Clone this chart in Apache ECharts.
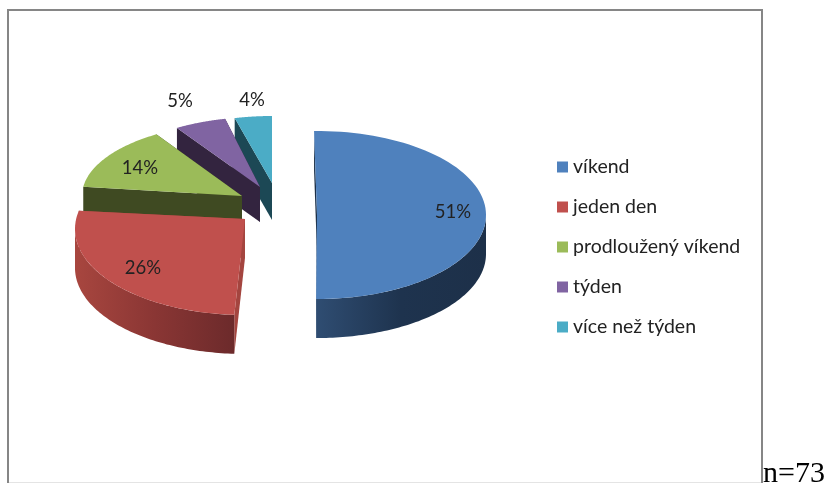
<!DOCTYPE html>
<html>
<head>
<meta charset="utf-8">
<style>html,body{margin:0;padding:0;background:#fff;overflow:hidden}#c{width:826px;height:483px}</style>
<script src="https://cdn.jsdelivr.net/npm/echarts@6/dist/echarts.min.js"></script>
</head>
<body>
<div id="c"></div>
<script>
var categories = ['víkend', 'jeden den', 'prodloužený víkend', 'týden', 'více než týden'];
var percents = [51, 26, 14, 5, 4];
var sampleNote = 'n=73';

var colors = ['#4f81bd', '#c0504d', '#9bbb59', '#8064a2', '#4bacc6'];
var faceColors = ['#1c3048', '#a4453f', '#3f4a22', '#33243f', '#1c4855'];
var wallStops = [
  ['#2f4d72', '#1e334e', '#1d3049'],
  ['#a8463f', '#8a3634', '#6c2a2b'],
  ['#3f4a22', '#3f4a22', '#3f4a22'],
  ['#33243f', '#33243f', '#33243f'],
  ['#1c4855', '#1c4855', '#1c4855']
];
/* projected look of each exploded slice: apex, ellipse drop, radii, depth, small perspective corrections */
var looks = [
  {cx: 317, cy: 215, ey: 0, rx: 169, ry: 84, d: 39, a0: -1, a1: -3.3, z: 5, lab: [453, 212]},
  {cx: 245, cy: 219, ey: 10, rx: 170, ry: 86, d: 39, a0: 0, a1: 5, z: 4, lab: [143, 268]},
  {cx: 242, cy: 196, ey: 0, rx: 160, ry: 73, d: 30, a0: 0, a1: 0, z: 3, lab: [140, 168]},
  {cx: 260, cy: 187, ey: 0, rx: 155, ry: 70, d: 35, a0: 0, a1: 1.4, z: 2, lab: [180, 101]},
  {cx: 272, cy: 183, ey: 0, rx: 150, ry: 67, d: 37, a0: 0, a1: 0, z: 1, lab: [252, 100]}
];

var total = percents.reduce(function (a, b) { return a + b; }, 0);

function pt(l, deg, dy) {
  var r = deg * Math.PI / 180;
  return [l.cx + l.rx * Math.sin(r), l.cy + l.ey - l.ry * Math.cos(r) + (dy || 0)];
}

function renderSlice(params, api) {
  var i = params.seriesIndex;
  var l = looks[i];
  var before = 0;
  for (var k = 0; k < i; k++) before += percents[k];
  var a0 = before / total * 360 + l.a0;
  var a1 = (before + api.value(0)) / total * 360 + l.a1;
  var topPts = [[l.cx, l.cy]];
  var n = 80, s;
  for (s = 0; s <= n; s++) topPts.push(pt(l, a0 + (a1 - a0) * s / n));

  var children = [];
  var apexLow = [l.cx, l.cy + l.d];
  [a1, a0].forEach(function (a) {
    children.push({
      type: 'polygon',
      shape: {points: [[l.cx, l.cy], pt(l, a), pt(l, a, l.d), apexLow]},
      style: {fill: faceColors[i]}
    });
  });

  var w0 = Math.max(a0, 90), w1 = Math.min(a1, 270);
  if (w1 > w0) {
    var upper = [], lower = [];
    for (s = 0; s <= n; s++) {
      var a = w0 + (w1 - w0) * s / n;
      upper.push(pt(l, a));
      lower.push(pt(l, a, l.d));
    }
    var st = wallStops[i];
    children.push({
      type: 'polygon',
      shape: {points: upper.concat(lower.reverse())},
      style: {
        fill: new echarts.graphic.LinearGradient(i === 0 ? 0 : 1, 0, i === 0 ? 1 : 0, 0, [
          {offset: 0, color: i === 0 ? st[0] : st[2]},
          {offset: 0.5, color: st[1]},
          {offset: 1, color: i === 0 ? st[2] : st[0]}
        ])
      }
    });
  }
  children.push({type: 'polygon', shape: {points: topPts}, style: {fill: colors[i]}});
  children.push({
    type: 'text',
    x: l.lab[0], y: l.lab[1],
    style: {
      text: Math.round(api.value(0) / total * 100) + '%',
      fill: '#222',
      font: '18.5px Lato',
      align: 'center',
      verticalAlign: 'middle'
    }
  });
  return {type: 'group', children: children};
}

var chart = echarts.init(document.getElementById('c'), null, {renderer: 'canvas'});
chart.setOption({
  animation: false,
  backgroundColor: '#fff',
  legend: {
    orient: 'vertical',
    left: 557,
    top: 157,
    padding: 0,
    icon: 'rect',
    itemWidth: 11,
    itemHeight: 11,
    itemGap: 20,
    selectedMode: false,
    data: categories,
    textStyle: {fontFamily: 'Lato', fontSize: 19.5, color: '#222', height: 20, lineHeight: 20}
  },
  graphic: [
    {type: 'rect', z: 0, shape: {x: 8, y: 10, width: 754, height: 480},
     style: {fill: 'none', stroke: '#868686', lineWidth: 2}},
    {type: 'line', z: 0, shape: {x1: 9, y1: 482.5, x2: 761, y2: 482.5},
     style: {stroke: '#e4e4e4', lineWidth: 1}},
    {type: 'text', z: 10, x: 763, y: 489,
     style: {text: sampleNote, font: '30px "Liberation Serif"', fill: '#000', align: 'left', verticalAlign: 'bottom'}}
  ],
  series: categories.map(function (name, i) {
    return {
      type: 'custom',
      name: name,
      coordinateSystem: 'none',
      z: 2 + looks[i].z,
      itemStyle: {color: colors[i]},
      renderItem: renderSlice,
      data: [percents[i]],
      silent: true
    };
  })
});
</script>
</body>
</html>
